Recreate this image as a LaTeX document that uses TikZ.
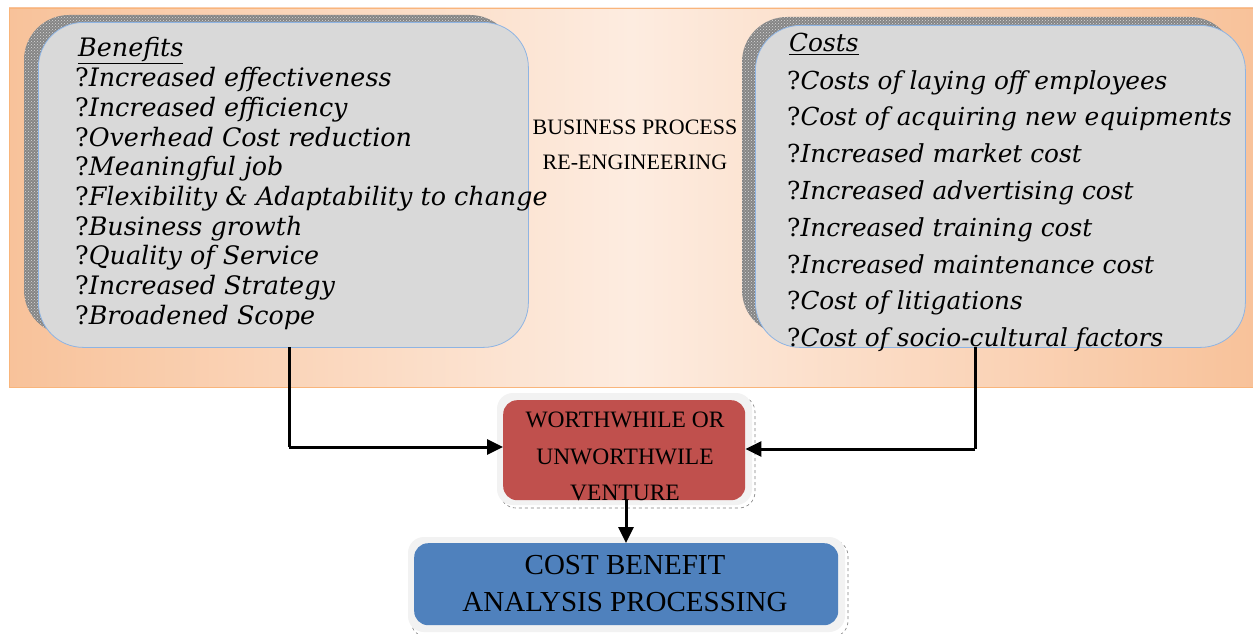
\documentclass[tikz,border=0pt]{standalone}
\usepackage{fontspec}
\setmainfont{DejaVu Serif}
\newfontfamily\capsfont{Liberation Serif}
\usetikzlibrary{patterns,arrows.meta}
\definecolor{peach}{HTML}{F8C29A}
\definecolor{peachlight}{HTML}{FDECE0}
\definecolor{boxgray}{HTML}{D9D9D9}
\definecolor{boxedge}{HTML}{8EB4E3}
\definecolor{redbox}{HTML}{C0504D}
\definecolor{bluebox}{HTML}{4F81BD}
\definecolor{glow}{HTML}{F2F2F2}
\tikzset{
  listbox/.style={draw=boxedge, line width=0.8pt, fill=boxgray, rounded corners=45pt},
  shadowbox/.style={fill=black!48, rounded corners=45pt},
  shadowdots/.style={pattern=crosshatch dots, pattern color=white!85!black, rounded corners=45pt},
  item/.style={anchor=base west, inner sep=0pt, font=\fontsize{24.8}{28}\selectfont},
  title/.style={anchor=center, inner sep=0pt, font=\capsfont\fontsize{23.5}{26}\selectfont},
  glowbox/.style={fill=glow, rounded corners=16pt},
  conn/.style={line width=3pt, -{Triangle[length=16pt,width=15pt]}},
  plainline/.style={line width=3pt}
}
\begin{document}
\begin{tikzpicture}[x=1pt,y=-1pt]
\useasboundingbox (0,0) rectangle (1253,634);
\fill[white] (0,0) rectangle (1253,634);
% background band
\shade[left color=peach, right color=peach, middle color=peachlight] (9,8) rectangle (1253,387);
\draw[peach!80!orange, line width=0.6pt] (9,8) rectangle (1253,387);

% Benefits box
\fill[shadowbox] (24,15) rectangle (515,335);
\path[shadowdots] (24,15) rectangle (515,335);
\node[listbox, minimum width=490pt, minimum height=325pt, anchor=north west] (ben) at (38,22) {};
\node[item, font=\fontsize{25.4}{28}\selectfont] (bh) at (78,57) {\underline{\textit{Benefits}}};
\foreach \t [count=\i] in {Increased effectiveness, Increased efficiency, Overhead Cost reduction, Meaningful job, Flexibility \& Adaptability to change, Business growth, Quality of Service, Increased Strategy, Broadened Scope}
  \node[item, font=\fontsize{25.4}{28}\selectfont] (b\i) at (75,{57+29.7*\i}) {?\textit{\t}};

% Costs box
\fill[shadowbox] (742,17) rectangle (1235,335);
\path[shadowdots] (742,17) rectangle (1235,335);
\node[listbox, minimum width=490pt, minimum height=322pt, anchor=north west] (cost) at (755,25) {};
\node[item] (ch) at (789,52) {\underline{\textit{Costs}}};
\foreach \t [count=\i] in {Costs of laying off employees, Cost of acquiring new equipments, Increased market cost, Increased advertising cost, Increased training cost, Increased maintenance cost, Cost of litigations, Cost of socio-cultural factors}
  \node[item] (c\i) at (787,{89+36.8*(\i-1)}) {?\textit{\t}};

% middle title
\node[title, font=\capsfont\fontsize{22}{26}\selectfont] (bp1) at (635,127) {BUSINESS PROCESS};
\node[title, font=\capsfont\fontsize{22}{26}\selectfont] (bp2) at (635,162) {RE-ENGINEERING};

% worthwhile box
\draw[gray, dashed, rounded corners=16pt, line width=0.6pt] (500,396) rectangle (755,508);
\fill[glowbox] (497,393) rectangle (752,505);
\node[fill=redbox, rounded corners=14pt, minimum width=242pt, minimum height=100pt, anchor=north west] (w) at (503,400) {};
\node[title] (w1) at (625,420) {WORTHWHILE OR};
\node[title] (w2) at (625,457) {UNWORTHWILE};
\node[title] (w3) at (625,493) {VENTURE};

% cost benefit box
\draw[gray, dashed, rounded corners=16pt, line width=0.6pt] (411,540) rectangle (848,637);
\fill[glowbox] (408,537) rectangle (845,632);
\node[fill=bluebox, rounded corners=14pt, minimum width=424pt, minimum height=82pt, anchor=north west] (cba) at (414,543) {};
\node[title, font=\capsfont\fontsize{29}{32}\selectfont] (cb1) at (625,565) {COST BENEFIT};
\node[title, font=\capsfont\fontsize{29}{32}\selectfont] (cb2) at (625,602) {ANALYSIS PROCESSING};

% connectors
\coordinate (bk) at (289,447);
\coordinate (ck) at (975,449);
\draw[plainline] (289,347) -- (bk);
\draw[conn] (bk) -- (w.west |- bk);
\draw[plainline] (975,347) -- (ck);
\draw[conn] (ck) -- (w.east |- ck);
\draw[conn] (626,500) -- (cba.north -| 626,0);
\end{tikzpicture}
\end{document}
